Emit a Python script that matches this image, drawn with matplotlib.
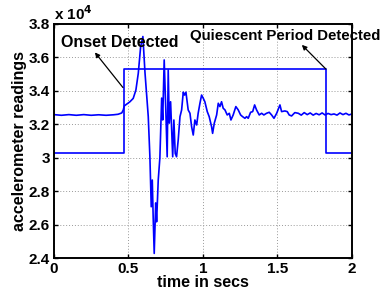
import matplotlib
matplotlib.use('Agg')
import matplotlib.pyplot as plt
from matplotlib.ticker import FuncFormatter

# accelerometer trace, readings in units of 1e4
t_sig = [0.0, 0.05, 0.1, 0.15, 0.2, 0.25, 0.3, 0.35, 0.4, 0.43, 0.455,
         0.465, 0.472, 0.51, 0.532, 0.55, 0.566, 0.582, 0.597, 0.611, 0.633,
         0.644, 0.653, 0.66, 0.666, 0.673, 0.683, 0.689, 0.7, 0.711, 0.723,
         0.73, 0.74, 0.75, 0.76, 0.767, 0.774, 0.783, 0.797, 0.805, 0.814,
         0.823, 0.834, 0.846, 0.857, 0.868, 0.877, 0.886, 0.901, 0.913, 0.924,
         0.935, 0.946, 0.958, 0.968, 0.98, 0.991, 1.002, 1.013, 1.029, 1.042,
         1.058, 1.065, 1.076, 1.092, 1.103, 1.114, 1.125, 1.136, 1.148, 1.163,
         1.177, 1.188, 1.203, 1.221, 1.237, 1.253, 1.266, 1.282, 1.293, 1.304,
         1.32, 1.334, 1.347, 1.36, 1.378, 1.394, 1.409, 1.427, 1.445, 1.461,
         1.477, 1.495, 1.517, 1.528, 1.55, 1.566, 1.579, 1.595, 1.617, 1.64,
         1.66, 1.68, 1.7, 1.72, 1.74, 1.76, 1.78, 1.8, 1.82, 1.84, 1.86, 1.88,
         1.9, 1.92, 1.94, 1.96, 1.98, 2.0]
readings = [3.258, 3.254, 3.258, 3.254, 3.258, 3.254, 3.257, 3.254, 3.257, 3.26, 3.268,
            3.285, 3.31, 3.335, 3.355, 3.405, 3.505, 3.665, 3.725, 3.51, 3.246,
            3.006, 2.707, 2.867, 2.647, 2.428, 2.73, 2.617, 2.867, 3.0, 3.357,
            3.226, 3.585, 3.306, 3.006, 3.525, 3.207, 3.335, 3.006, 3.226, 3.026,
            3.006, 3.106, 3.246, 3.286, 3.392, 3.375, 3.392, 3.286, 3.266, 3.186,
            3.136, 3.226, 3.196, 3.266, 3.326, 3.375, 3.356, 3.335, 3.276, 3.246,
            3.186, 3.146, 3.206, 3.256, 3.326, 3.306, 3.335, 3.296, 3.286, 3.256,
            3.266, 3.226, 3.256, 3.306, 3.286, 3.256, 3.246, 3.236, 3.246, 3.236,
            3.272, 3.276, 3.316, 3.286, 3.256, 3.266, 3.256, 3.266, 3.272, 3.256,
            3.236, 3.266, 3.316, 3.276, 3.28, 3.276, 3.256, 3.25, 3.27, 3.266,
            3.255, 3.27, 3.258, 3.268, 3.255, 3.265, 3.257, 3.268, 3.256, 3.265,
            3.258, 3.262, 3.255, 3.268, 3.258, 3.266, 3.256, 3.262]

# detection indicator (step)
t_det = [0.0, 0.47, 0.47, 1.826, 1.826, 2.0]
detect = [3.03, 3.03, 3.53, 3.53, 3.03, 3.03]

xticks = [0, 0.5, 1, 1.5, 2]
yticks = [2.4, 2.6, 2.8, 3.0, 3.2, 3.4, 3.6, 3.8]

plt.rcParams['font.family'] = ['Liberation Sans', 'DejaVu Sans']
plt.rcParams['font.weight'] = 'bold'

fig = plt.figure(figsize=(3.91, 2.96), dpi=100)
ax = fig.add_axes([0.138, 0.128, 0.762, 0.791])

ax.plot(t_sig, readings, color='#0000ff', lw=1.2)
ax.plot(t_det, detect, color='#0000ff', lw=1.2)

ax.set_xlim(0, 2)
ax.set_ylim(2.4, 3.8)
ax.set_xticks(xticks)
ax.set_yticks(yticks)
ax.xaxis.set_major_formatter(FuncFormatter(lambda v, p: '%g' % v))
ax.yaxis.set_major_formatter(FuncFormatter(lambda v, p: '%g' % v))
ax.tick_params(direction='in', top=True, right=True, length=3, width=1,
               labelsize=11, pad=3)
for lab in ax.get_xticklabels() + ax.get_yticklabels():
    lab.set_fontweight('bold')
for s in ax.spines.values():
    s.set_linewidth(1.4)
ax.grid(True, linestyle=(0, (1, 2)), color='#999999', lw=0.7)

ax.set_xlabel('time in secs', fontsize=11.5, fontweight='bold', labelpad=-1)
ax.set_ylabel('accelerometer readings', fontsize=11.5, fontweight='bold', labelpad=1)
ax.text(0.0, 1.005, r'x 10$^{4}$', transform=ax.transAxes, fontsize=11,
        fontweight='bold', va='bottom', ha='left')

ax.text(0.05, 3.69, 'Onset Detected', fontsize=11.5, fontweight='bold',
        va='center', ha='left')
ax.annotate('', xy=(0.275, 3.63), xytext=(0.463, 3.42),
            arrowprops=dict(arrowstyle='-|>', color='black', lw=0.9,
                            mutation_scale=7, shrinkA=0, shrinkB=0))
ax.text(0.915, 3.73, 'Quiescent Period Detected', fontsize=10.8,
        fontweight='bold', va='center', ha='left', clip_on=False)
ax.annotate('', xy=(1.664, 3.675), xytext=(1.826, 3.53),
            arrowprops=dict(arrowstyle='-|>', color='black', lw=0.9,
                            mutation_scale=7, shrinkA=0, shrinkB=0))

fig.savefig('out.png', dpi=100)
